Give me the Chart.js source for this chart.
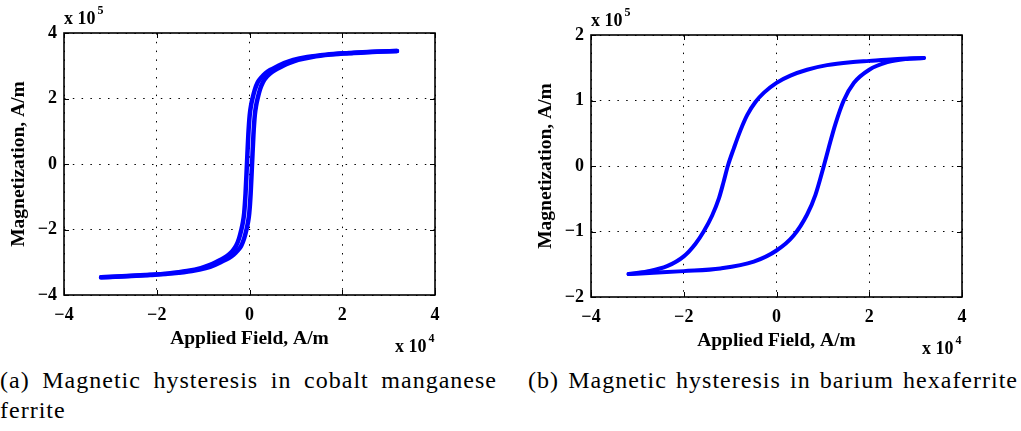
<!DOCTYPE html>
<html>
<head>
<meta charset="utf-8">
<script src="https://cdn.jsdelivr.net/npm/chart.js@4.4.1/dist/chart.umd.min.js"></script>
<style>
  html, body { margin: 0; padding: 0; background: #fff; }
  body { width: 1021px; height: 431px; position: relative; overflow: hidden; }
  canvas { position: absolute; }
  #chartCo { left: 0; top: 0; }
  #chartBa { left: 527px; top: 2px; }
  .cap {
    position: absolute; font-family: "Liberation Serif", serif; font-size: 24px;
    letter-spacing: 1px; line-height: 28px; color: #000; white-space: nowrap;
  }
  .just { text-align: justify; text-align-last: justify; }
</style>
</head>
<body>
<canvas id="chartCo" width="480" height="360"></canvas>
<canvas id="chartBa" width="480" height="360"></canvas>
<div class="cap just" style="left:0;top:366px;width:497px">(a) Magnetic hysteresis in cobalt manganese</div>
<div class="cap" style="left:0;top:396px">ferrite</div>
<div class="cap just" style="left:528px;top:366px;width:490px">(b) Magnetic hysteresis in barium hexaferrite</div>
<script>
/* ═══════════════════════════════════════════
   DATA  (field in 1e4 A/m, magnetization in 1e5 A/m)
═══════════════════════════════════════════ */
const fieldTicks = [-4, -2, 0, 2, 4];
const coMagTicks = [-4, -2, 0, 2, 4];
const baMagTicks = [-2, -1, 0, 1, 2];

// cobalt manganese ferrite – upper (descending) branch, listed by field
const coFieldUpper = [-3.2, -2.75, -2.25, -1.75, -1.35, -1.05, -0.85, -0.7, -0.55, -0.45, -0.37, -0.29, -0.225,
  -0.175, -0.145, -0.115, -0.085, -0.055, -0.025, 0.005, 0.035, 0.065, 0.115, 0.18, 0.265, 0.345, 0.445,
  0.595, 0.745, 0.945, 1.245, 1.645, 2.145, 2.645, 3.18];
const coMagUpper = [-3.46, -3.43, -3.39, -3.34, -3.27, -3.18, -3.08, -2.98, -2.87, -2.77, -2.66, -2.5, -2.27,
  -2.0, -1.8, -1.5, -0.9, 0, 0.9, 1.5, 1.8, 2.0, 2.27, 2.5, 2.66, 2.77, 2.87,
  2.98, 3.08, 3.18, 3.27, 3.34, 3.39, 3.43, 3.45];
// lower (ascending) branch
const coFieldLower = [-3.2, -2.645, -2.145, -1.645, -1.245, -0.945, -0.745, -0.595, -0.445, -0.345, -0.265, -0.18,
  -0.115, -0.065, -0.035, -0.005, 0.025, 0.055, 0.085, 0.115, 0.145, 0.175, 0.225, 0.29, 0.37, 0.45, 0.55,
  0.7, 0.85, 1.05, 1.35, 1.75, 2.25, 2.75, 3.18];
const coMagLower = [-3.46, -3.43, -3.39, -3.34, -3.27, -3.18, -3.08, -2.98, -2.87, -2.77, -2.66, -2.5,
  -2.27, -2.0, -1.8, -1.5, -0.9, 0, 0.9, 1.5, 1.8, 2.0, 2.27, 2.5, 2.66, 2.77, 2.87,
  2.98, 3.08, 3.18, 3.27, 3.34, 3.39, 3.43, 3.45];

// barium hexaferrite – upper (descending) branch
const baFieldUpper = [-3.19, -2.79, -2.36, -2.0, -1.75, -1.57, -1.39, -1.24, -1.14, -1.05, -0.92, -0.78, -0.63,
  -0.45, -0.27, 0, 0.3, 0.66, 1.09, 1.6, 2.0, 2.53, 3.18];
const baMagUpper = [-1.65, -1.61, -1.53, -1.38, -1.19, -1.0, -0.76, -0.49, -0.24, 0, 0.27, 0.54, 0.78,
  0.98, 1.12, 1.27, 1.38, 1.47, 1.54, 1.585, 1.605, 1.63, 1.65];
// lower (ascending) branch
const baFieldLower = [-3.19, -2.65, -2.0, -1.21, -0.49, 0, 0.37, 0.66, 0.84, 1.02, 1.13, 1.27, 1.45, 1.67,
  2.0, 2.39, 2.82, 3.18];
const baMagLower = [-1.65, -1.63, -1.605, -1.565, -1.46, -1.29, -1.06, -0.74, -0.44, 0, 0.29, 0.64, 1.0, 1.27,
  1.47, 1.585, 1.635, 1.65];

/* ═══════════════════════════════════════════
   HELPERS
═══════════════════════════════════════════ */
const SERIF = '"Liberation Serif", "Times New Roman", serif';
const toPts = (xs, ys) => xs.map((x, i) => ({ x, y: ys[i] }));
const fmt = v => (v < 0 ? '\u2212' + Math.abs(v) : String(v));

// frame, inward ticks and "x 10^n" multipliers
const matlabFrame = {
  id: 'matlabFrame',
  afterDraw(chart) {
    const { ctx, chartArea: a, scales: { x, y } } = chart;
    ctx.save();
    ctx.strokeStyle = '#000';
    ctx.lineWidth = 1;
    ctx.beginPath();
    x.ticks.forEach(t => {
      const px = Math.round(x.getPixelForValue(t.value)) + 0.5;
      ctx.moveTo(px, a.bottom); ctx.lineTo(px, a.bottom - 5);
      ctx.moveTo(px, a.top); ctx.lineTo(px, a.top + 5);
    });
    y.ticks.forEach(t => {
      const py = Math.round(y.getPixelForValue(t.value)) + 0.5;
      ctx.moveTo(a.left, py); ctx.lineTo(a.left + 5, py);
      ctx.moveTo(a.right, py); ctx.lineTo(a.right - 5, py);
    });
    ctx.stroke();
    ctx.lineWidth = 1.6;
    ctx.strokeRect(a.left, a.top, a.width, a.height);

    ctx.fillStyle = '#000';
    ctx.textBaseline = 'alphabetic';
    const expo = (txt, sup, px, py) => {
      ctx.font = `bold 18px ${SERIF}`;
      ctx.fillText(txt, px, py);
      const w = ctx.measureText(txt).width;
      ctx.font = `bold 12px ${SERIF}`;
      ctx.fillText(sup, px + w + 2, py - 10);
    };
    expo('x 10', '5', a.left, a.top - 9);
    expo('x 10', '4', a.right - 40, a.bottom + 57);
    ctx.restore();
  }
};

function makeChart(id, upper, lower, yTicks, lw) {
  const yMin = yTicks[0], yMax = yTicks[yTicks.length - 1];
  const ds = pts => ({
    data: pts, showLine: true, borderColor: '#0000ff', borderWidth: lw,
    pointRadius: 0, cubicInterpolationMode: 'monotone', fill: false,
    borderCapStyle: 'round', borderJoinStyle: 'round'
  });
  return new Chart(document.getElementById(id), {
    type: 'scatter',
    data: { datasets: [ds(upper), ds(lower)] },
    plugins: [matlabFrame],
    options: {
      responsive: false,
      animation: false,
      layout: { padding: { top: 33, right: 45, left: 0, bottom: 0 } },
      plugins: { legend: { display: false }, tooltip: { enabled: false } },
      scales: {
        x: {
          type: 'linear', min: fieldTicks[0], max: fieldTicks[fieldTicks.length - 1],
          afterBuildTicks: s => { s.ticks = fieldTicks.map(v => ({ value: v })); },
          afterFit: s => { s.height = 65; },
          grid: { color: '#000', lineWidth: 1, drawTicks: false },
          border: { display: false, dash: [1.5, 7.3] },
          ticks: { color: '#000', padding: 10, maxRotation: 0, font: { family: SERIF, size: 18, weight: 'bold' }, callback: fmt },
          title: { display: true, text: 'Applied Field, A/m', color: '#000', padding: { top: 0, bottom: 9 },
            font: { family: SERIF, size: 19.5, weight: 'bold' } }
        },
        y: {
          type: 'linear', min: yMin, max: yMax,
          afterBuildTicks: s => { s.ticks = yTicks.map(v => ({ value: v })); },
          afterFit: s => { s.width = 64; },
          grid: { color: '#000', lineWidth: 1, drawTicks: false },
          border: { display: false, dash: [1.5, 7.3] },
          ticks: { color: '#000', padding: 7, font: { family: SERIF, size: 18, weight: 'bold' }, callback: fmt },
          title: { display: true, text: 'Magnetization, A/m', color: '#000', padding: { top: 7, bottom: 0 },
            font: { family: SERIF, size: 19.5, weight: 'bold' } }
        }
      }
    }
  });
}

makeChart('chartCo', toPts(coFieldUpper, coMagUpper), toPts(coFieldLower, coMagLower), coMagTicks, 4.5);
makeChart('chartBa', toPts(baFieldUpper, baMagUpper), toPts(baFieldLower, baMagLower), baMagTicks, 4);
</script>
</body>
</html>
